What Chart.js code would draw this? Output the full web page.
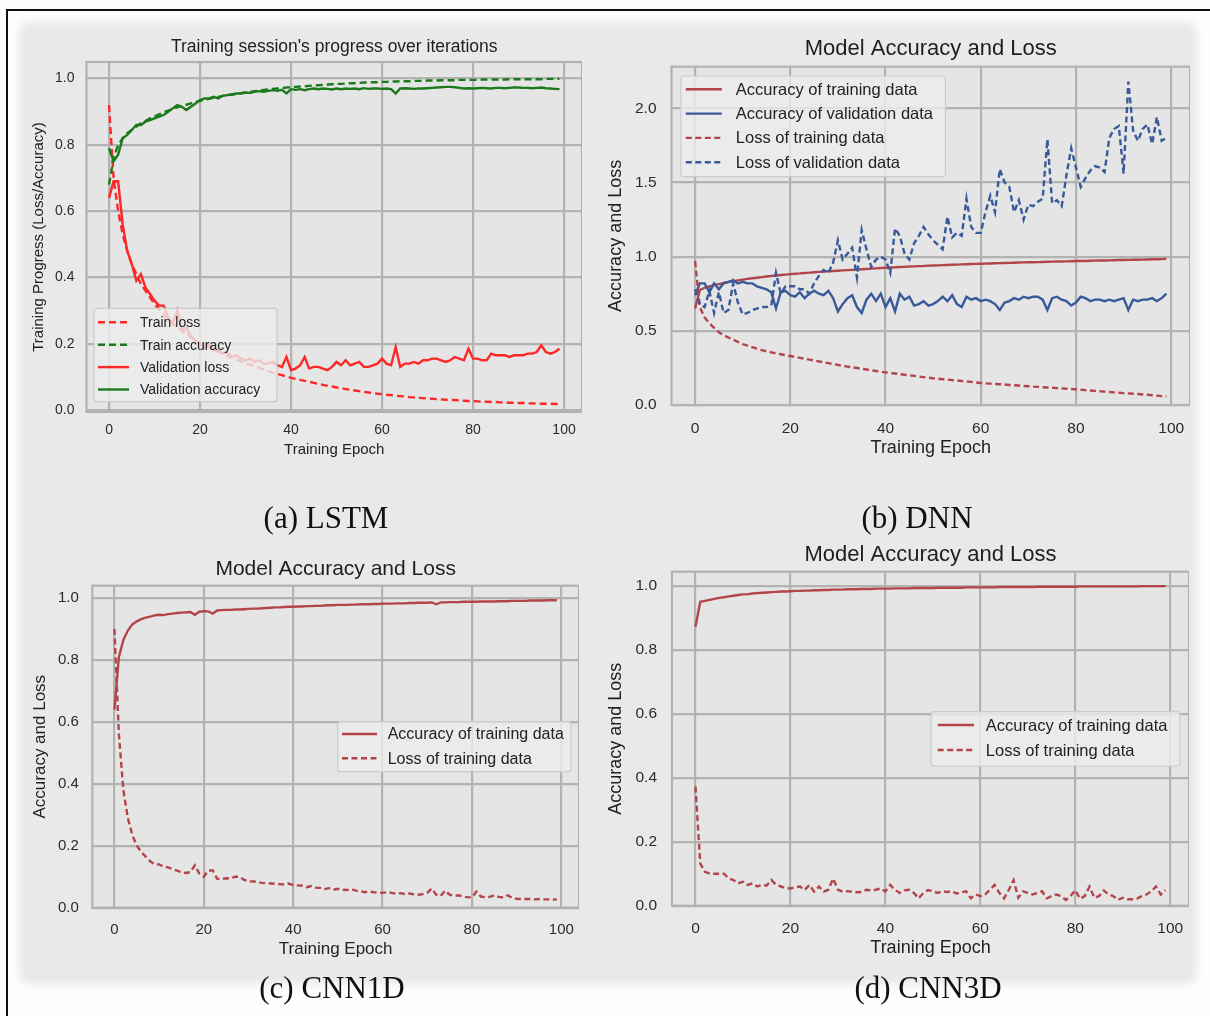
<!DOCTYPE html>
<html><head><meta charset="utf-8">
<script src="https://cdn.jsdelivr.net/npm/chart.js@4.4.0/dist/chart.umd.min.js"></script>
<style>
html,body{margin:0;padding:0;background:#fdfdfd;width:1210px;height:1016px;overflow:hidden;position:relative;font-family:"Liberation Sans",Arial,sans-serif;}
#frame{position:absolute;left:6px;top:9px;width:1300px;height:1100px;border:2px solid #111;}
#panel{position:absolute;left:24px;top:27px;width:1168px;height:952px;background:#e9e9e9;box-shadow:0 0 8px 5px #e9e9e9;border-radius:6px}
canvas{position:absolute}
.cap{position:absolute;font-family:"Liberation Serif","Times New Roman",serif;font-size:31px;color:#111;transform:translate(-50%,-50%);white-space:nowrap}
</style></head>
<body>
<div id="frame"></div><div id="panel"></div>
<canvas id="cA" width="562" height="443" style="left:20px;top:20px"></canvas>
<canvas id="cB" width="590" height="450" style="left:600px;top:20px"></canvas>
<canvas id="cC" width="559" height="440" style="left:20px;top:535px"></canvas>
<canvas id="cD" width="589" height="445" style="left:600px;top:530px"></canvas>
<div class="cap" style="left:326px;top:518px">(a) LSTM</div>
<div class="cap" style="left:917px;top:518px">(b) DNN</div>
<div class="cap" style="left:332px;top:988px">(c) CNN1D</div>
<div class="cap" style="left:928px;top:988px">(d) CNN3D</div>
<script>
// ---------- shared categories / ticks ----------
const epochs = Array.from({length: 100}, (_, i) => i);
const xTickValues = [0, 20, 40, 60, 80, 100];
const yTicksUnit = [0, 0.2, 0.4, 0.6, 0.8, 1.0];
const yTicksDNN = [0, 0.5, 1.0, 1.5, 2.0];

// ---------- (a) LSTM ----------
const lstmTrainLoss = [
 0.92,0.70,0.60,0.53,0.48,0.44,0.41,0.38,0.36,0.34,
 0.32,0.305,0.29,0.275,0.26,0.25,0.24,0.23,0.22,0.21,
 0.20,0.195,0.19,0.183,0.176,0.17,0.164,0.158,0.152,0.147,
 0.142,0.137,0.132,0.127,0.122,0.117,0.113,0.109,0.105,0.101,
 0.097,0.094,0.091,0.088,0.085,0.082,0.079,0.076,0.073,0.071,
 0.068,0.066,0.063,0.061,0.059,0.057,0.055,0.053,0.051,0.049,
 0.048,0.046,0.045,0.043,0.042,0.041,0.039,0.038,0.037,0.036,
 0.035,0.034,0.033,0.032,0.031,0.030,0.030,0.029,0.028,0.027,
 0.027,0.026,0.025,0.025,0.024,0.024,0.023,0.023,0.022,0.022,
 0.021,0.021,0.020,0.020,0.020,0.019,0.019,0.019,0.018,0.018];
const lstmTrainAcc = [
 0.68,0.76,0.80,0.82,0.835,0.845,0.855,0.865,0.872,0.88,
 0.886,0.892,0.898,0.903,0.908,0.913,0.917,0.921,0.925,0.929,
 0.933,0.936,0.939,0.942,0.945,0.948,0.950,0.952,0.954,0.956,
 0.958,0.960,0.962,0.964,0.966,0.967,0.969,0.970,0.971,0.973,
 0.974,0.975,0.976,0.977,0.978,0.979,0.980,0.981,0.982,0.983,
 0.984,0.984,0.985,0.986,0.986,0.987,0.988,0.988,0.989,0.989,
 0.990,0.990,0.991,0.991,0.992,0.992,0.992,0.993,0.993,0.993,
 0.994,0.994,0.994,0.995,0.995,0.995,0.995,0.996,0.996,0.996,
 0.996,0.996,0.997,0.997,0.997,0.997,0.997,0.997,0.998,0.998,
 0.998,0.998,0.998,0.998,0.998,0.998,0.999,0.999,0.999,0.999];
const lstmValLoss = [
 0.64,0.69,0.69,0.56,0.48,0.44,0.39,0.41,0.37,0.35,
 0.33,0.315,0.315,0.28,0.26,0.30,0.24,0.25,0.22,0.21,
 0.20,0.19,0.20,0.18,0.18,0.17,0.175,0.16,0.165,0.155,
 0.15,0.155,0.145,0.15,0.14,0.14,0.145,0.135,0.13,0.16,
 0.12,0.125,0.135,0.16,0.125,0.13,0.13,0.125,0.12,0.13,
 0.145,0.135,0.15,0.135,0.14,0.145,0.13,0.13,0.135,0.14,
 0.155,0.14,0.135,0.19,0.13,0.14,0.14,0.145,0.14,0.15,
 0.15,0.155,0.155,0.15,0.145,0.15,0.16,0.155,0.15,0.185,
 0.155,0.155,0.15,0.15,0.17,0.165,0.165,0.165,0.16,0.165,
 0.165,0.165,0.17,0.17,0.175,0.195,0.175,0.17,0.175,0.185];
const lstmValAcc = [
 0.79,0.75,0.77,0.82,0.83,0.845,0.86,0.86,0.87,0.875,
 0.88,0.885,0.89,0.90,0.91,0.92,0.915,0.905,0.915,0.925,
 0.935,0.94,0.94,0.945,0.94,0.948,0.95,0.952,0.955,0.955,
 0.958,0.957,0.96,0.962,0.96,0.963,0.965,0.963,0.966,0.955,
 0.968,0.966,0.968,0.965,0.968,0.97,0.968,0.97,0.969,0.967,
 0.97,0.968,0.97,0.969,0.97,0.968,0.971,0.969,0.97,0.97,
 0.969,0.97,0.968,0.955,0.97,0.971,0.97,0.969,0.97,0.97,
 0.971,0.972,0.973,0.974,0.975,0.975,0.974,0.972,0.97,0.971,
 0.97,0.971,0.972,0.971,0.97,0.972,0.972,0.971,0.972,0.973,
 0.973,0.972,0.972,0.971,0.972,0.973,0.971,0.97,0.969,0.968];

// ---------- (b) DNN ----------
const dnnTrainAcc = [
 0.65,0.775,0.79,0.80,0.808,0.815,0.822,0.828,0.834,0.84,
 0.845,0.85,0.854,0.858,0.862,0.866,0.869,0.873,0.876,0.879,
 0.882,0.885,0.887,0.89,0.892,0.895,0.897,0.899,0.901,0.903,
 0.905,0.907,0.909,0.911,0.913,0.915,0.917,0.919,0.921,0.923,
 0.925,0.927,0.928,0.93,0.931,0.933,0.934,0.936,0.937,0.939,
 0.94,0.941,0.943,0.944,0.945,0.946,0.948,0.949,0.95,0.951,
 0.952,0.953,0.954,0.955,0.956,0.957,0.958,0.959,0.96,0.961,
 0.962,0.962,0.963,0.964,0.965,0.966,0.967,0.967,0.968,0.969,
 0.97,0.971,0.971,0.972,0.973,0.974,0.974,0.975,0.976,0.977,
 0.977,0.978,0.979,0.979,0.98,0.981,0.982,0.982,0.983,0.985];
const dnnValAcc = [
 0.74,0.82,0.82,0.76,0.82,0.78,0.82,0.83,0.84,0.82,
 0.83,0.82,0.82,0.80,0.79,0.78,0.76,0.65,0.76,0.77,
 0.74,0.73,0.76,0.72,0.75,0.77,0.75,0.74,0.77,0.72,
 0.63,0.68,0.72,0.74,0.66,0.62,0.71,0.75,0.70,0.75,
 0.66,0.72,0.63,0.75,0.71,0.73,0.67,0.68,0.70,0.67,
 0.68,0.70,0.73,0.70,0.74,0.68,0.66,0.73,0.71,0.72,
 0.70,0.71,0.70,0.68,0.64,0.69,0.70,0.72,0.71,0.73,
 0.72,0.73,0.73,0.71,0.64,0.72,0.73,0.71,0.70,0.67,
 0.69,0.73,0.72,0.70,0.71,0.71,0.70,0.71,0.70,0.71,
 0.72,0.64,0.71,0.70,0.71,0.71,0.72,0.70,0.72,0.75];
const dnnTrainLoss = [
 0.97,0.66,0.59,0.55,0.52,0.49,0.47,0.455,0.44,0.425,
 0.41,0.40,0.39,0.38,0.37,0.362,0.355,0.348,0.342,0.336,
 0.33,0.324,0.318,0.312,0.306,0.30,0.294,0.288,0.282,0.276,
 0.27,0.264,0.259,0.254,0.249,0.244,0.239,0.234,0.229,0.224,
 0.22,0.216,0.212,0.208,0.204,0.2,0.196,0.192,0.188,0.184,
 0.18,0.177,0.174,0.171,0.168,0.165,0.162,0.159,0.156,0.152,
 0.148,0.146,0.144,0.142,0.14,0.138,0.135,0.133,0.131,0.128,
 0.126,0.124,0.122,0.12,0.118,0.116,0.114,0.112,0.11,0.108,
 0.105,0.103,0.1,0.098,0.095,0.093,0.09,0.088,0.085,0.083,
 0.08,0.078,0.076,0.074,0.071,0.069,0.066,0.063,0.06,0.057];
const dnnValLoss = [
 0.78,0.68,0.66,0.77,0.62,0.76,0.62,0.64,0.82,0.69,
 0.61,0.62,0.64,0.65,0.66,0.66,0.67,0.89,0.75,0.80,
 0.80,0.80,0.78,0.78,0.75,0.82,0.87,0.91,0.89,0.96,
 1.11,0.98,1.02,1.06,0.86,1.18,1.05,0.93,0.98,1.00,
 0.98,0.89,1.19,1.14,1.02,0.98,1.09,1.14,1.2,1.15,
 1.11,1.08,1.05,1.27,1.13,1.16,1.14,1.39,1.2,1.16,
 1.16,1.30,1.41,1.3,1.59,1.5,1.47,1.3,1.38,1.25,
 1.35,1.34,1.37,1.39,1.79,1.36,1.38,1.34,1.55,1.73,
 1.6,1.47,1.53,1.58,1.61,1.6,1.57,1.8,1.86,1.88,
 1.56,2.18,1.85,1.78,1.86,1.89,1.76,1.94,1.78,1.80];

// ---------- (c) CNN1D ----------
const cnn1dAcc = [
 0.64,0.81,0.865,0.895,0.915,0.925,0.932,0.937,0.94,0.944,
 0.946,0.945,0.948,0.95,0.952,0.953,0.954,0.955,0.946,0.956,
 0.958,0.957,0.95,0.96,0.961,0.962,0.962,0.963,0.963,0.964,
 0.965,0.966,0.966,0.967,0.968,0.969,0.97,0.97,0.971,0.972,
 0.972,0.973,0.973,0.974,0.974,0.975,0.975,0.976,0.977,0.977,
 0.978,0.978,0.978,0.979,0.979,0.98,0.98,0.98,0.981,0.981,
 0.982,0.982,0.982,0.983,0.983,0.983,0.984,0.984,0.985,0.985,
 0.985,0.986,0.98,0.986,0.986,0.987,0.987,0.987,0.988,0.988,
 0.988,0.988,0.989,0.989,0.989,0.989,0.99,0.99,0.99,0.991,
 0.991,0.991,0.991,0.992,0.992,0.992,0.992,0.993,0.993,0.993];
const cnn1dLoss = [
 0.90,0.56,0.38,0.29,0.235,0.20,0.18,0.165,0.15,0.14,
 0.14,0.133,0.13,0.125,0.12,0.115,0.112,0.115,0.137,0.11,
 0.10,0.12,0.12,0.093,0.093,0.095,0.094,0.10,0.10,0.09,
 0.085,0.085,0.083,0.08,0.079,0.078,0.077,0.076,0.075,0.078,
 0.073,0.072,0.071,0.066,0.07,0.065,0.064,0.06,0.063,0.058,
 0.061,0.058,0.057,0.06,0.055,0.054,0.05,0.053,0.05,0.049,
 0.048,0.05,0.048,0.045,0.047,0.044,0.046,0.043,0.042,0.044,
 0.048,0.062,0.042,0.038,0.055,0.042,0.038,0.04,0.036,0.034,
 0.033,0.052,0.036,0.034,0.035,0.04,0.035,0.033,0.04,0.032,
 0.029,0.028,0.028,0.028,0.027,0.028,0.027,0.027,0.026,0.027];

// ---------- (d) CNN3D ----------
const cnn3dAcc = [
 0.872,0.95,0.953,0.956,0.959,0.962,0.964,0.967,0.969,0.971,
 0.973,0.974,0.976,0.977,0.978,0.979,0.98,0.981,0.982,0.982,
 0.983,0.984,0.984,0.985,0.985,0.986,0.986,0.987,0.987,0.988,
 0.988,0.988,0.989,0.989,0.989,0.99,0.99,0.99,0.991,0.991,
 0.991,0.991,0.992,0.992,0.992,0.992,0.993,0.993,0.993,0.993,
 0.993,0.994,0.994,0.994,0.994,0.994,0.994,0.995,0.995,0.995,
 0.995,0.995,0.995,0.995,0.996,0.996,0.996,0.996,0.996,0.996,
 0.996,0.996,0.997,0.997,0.997,0.997,0.997,0.997,0.997,0.997,
 0.997,0.998,0.998,0.998,0.998,0.998,0.998,0.998,0.998,0.998,
 0.998,0.998,0.998,0.998,0.999,0.999,0.999,0.999,0.999,0.999];
const cnn3dLoss = [
 0.372,0.132,0.106,0.10,0.10,0.10,0.10,0.085,0.08,0.07,
 0.075,0.065,0.07,0.06,0.065,0.063,0.08,0.065,0.06,0.055,
 0.054,0.058,0.06,0.049,0.065,0.044,0.06,0.044,0.05,0.085,
 0.05,0.044,0.045,0.044,0.042,0.043,0.05,0.048,0.05,0.054,
 0.045,0.065,0.05,0.04,0.048,0.05,0.04,0.023,0.04,0.049,
 0.045,0.04,0.045,0.043,0.045,0.038,0.042,0.045,0.023,0.035,
 0.03,0.035,0.05,0.065,0.04,0.023,0.05,0.08,0.025,0.045,
 0.04,0.035,0.04,0.045,0.023,0.03,0.035,0.03,0.018,0.03,
 0.049,0.022,0.03,0.06,0.025,0.03,0.048,0.035,0.03,0.018,
 0.025,0.02,0.02,0.022,0.03,0.035,0.045,0.06,0.035,0.049];

// ---------- styling ----------
const FONT = '"Liberation Sans", Arial, Helvetica, sans-serif';
Chart.defaults.font.family = FONT;
const RED_A = '#ff2626', GREEN_A = '#1c7a1c';
const RED = '#b3454a', BLUE = '#38599a';
const GRID = '#b2b2b2', PLOT_BG = '#e5e5e5', TXT = '#2b2b2b';
const LW = 2.4;

const decoPlugin = {
  id: 'deco',
  beforeDraw(chart) {
    const {ctx, chartArea: a} = chart;
    ctx.save();
    ctx.fillStyle = PLOT_BG;
    ctx.fillRect(a.left, a.top, a.right - a.left, a.bottom - a.top);
    ctx.restore();
  },
  beforeDatasetsDraw(chart) {
    const {ctx, chartArea: a} = chart;
    ctx.save();
    ctx.strokeStyle = GRID; ctx.lineWidth = 2.2;
    ctx.strokeRect(a.left, a.top, a.right - a.left, a.bottom - a.top);
    ctx.restore();
  },
  afterDatasetsDraw(chart, args, L) {
    if (!L || !L.order) return;
    const {ctx, chartArea: a} = chart;
    const x0 = a.left + L.dx, y0 = a.top + L.dy;
    ctx.save();
    ctx.beginPath();
    ctx.roundRect(x0, y0, L.w, L.h, 3);
    ctx.fillStyle = 'rgba(236,236,236,0.8)';
    ctx.fill();
    ctx.strokeStyle = '#cccccc'; ctx.lineWidth = 1.2;
    ctx.stroke();
    L.order.forEach((di, i) => {
      const ds = chart.data.datasets[di];
      const y = y0 + L.row0 + i * L.gap;
      ctx.beginPath();
      ctx.setLineDash(ds.borderDash || []);
      ctx.strokeStyle = ds.borderColor; ctx.lineWidth = ds.borderWidth;
      ctx.moveTo(x0 + L.sw0, y); ctx.lineTo(x0 + L.sw1, y); ctx.stroke();
      ctx.setLineDash([]);
      ctx.fillStyle = '#222222';
      ctx.font = L.fontSize + 'px ' + FONT;
      ctx.textBaseline = 'middle'; ctx.textAlign = 'left';
      ctx.fillText(ds.label, x0 + L.tx, y + 1);
    });
    ctx.restore();
  }
};

function series(label, vals, color, dashed, dash) {
  return {
    label, data: epochs.map((e, i) => ({x: e, y: vals[i]})),
    borderColor: color, backgroundColor: color, borderWidth: LW,
    borderDash: dashed ? dash : [], pointRadius: 0, tension: 0, fill: false
  };
}

function build(id, p) {
  const n = p.datasets.length;
  p.datasets.forEach((d, k) => d.order = n - k);
  new Chart(document.getElementById(id), {
    type: 'line',
    data: {datasets: p.datasets},
    plugins: [decoPlugin],
    options: {
      responsive: false, animation: false, events: [],
      layout: {padding: 0},
      plugins: {
        legend: {display: false}, tooltip: {enabled: false},
        title: {display: true, text: p.title, fullSize: false, color: '#1e1e1e',
          font: {size: p.titleSize, weight: 'normal'}, padding: {top: p.titlePt, bottom: p.titlePb}},
        deco: p.legend
      },
      scales: {
        x: {
          type: 'linear', min: -4.95, max: 103.95,
          afterBuildTicks: s => { s.ticks = xTickValues.map(v => ({value: v})); },
          afterFit: s => { s.height = p.xH; s.paddingLeft = 0; s.paddingRight = 0; },
          ticks: {autoSkip: false, maxRotation: 0, padding: p.xPad, color: TXT,
            font: {size: p.tickSize}, callback: v => String(v)},
          grid: {color: GRID, lineWidth: 2.2, drawTicks: false},
          border: {display: false},
          title: {display: true, text: 'Training Epoch', color: '#222222',
            font: {size: p.axSize}, padding: {top: 0, bottom: p.xTitlePb}}
        },
        y: {
          min: p.yMin, max: p.yMax,
          afterBuildTicks: s => { s.ticks = p.yTicks.map(v => ({value: v})); },
          afterFit: s => { s.width = p.yW; s.paddingTop = 0; s.paddingBottom = 0; },
          ticks: {padding: p.yPad, color: TXT, font: {size: p.tickSize},
            callback: v => Number(v).toFixed(1)},
          grid: {color: GRID, lineWidth: 2.2, drawTicks: false},
          border: {display: false},
          title: {display: true, text: p.yTitle, color: '#222222',
            font: {size: p.axSize}, padding: {top: p.yTitlePt, bottom: 0}}
        }
      }
    }
  });
}

// (a) LSTM
build('cA', {
  title: "Training session's progress over iterations", titleSize: 17.5, titlePt: 16.5, titlePb: 4.5,
  yTitle: 'Training Progress (Loss/Accuracy)', yTitlePt: 9.5, axSize: 15, tickSize: 14,
  xH: 51, xPad: 10, xTitlePb: 4, yW: 66.5, yPad: 12,
  yMin: -0.006, yMax: 1.05, yTicks: yTicksUnit,
  datasets: [
    series('Train loss', lstmTrainLoss, RED_A, true, [7, 4]),
    series('Train accuracy', lstmTrainAcc, GREEN_A, true, [7, 4]),
    series('Validation loss', lstmValLoss, RED_A, false),
    series('Validation accuracy', lstmValAcc, GREEN_A, false)
  ],
  legend: {order: [0, 1, 2, 3], dx: 7.5, dy: 246.3, w: 183, h: 93.4, row0: 14, gap: 22.4,
    sw0: 4, sw1: 35, tx: 46, fontSize: 14}
});

// (b) DNN
build('cB', {
  title: 'Model Accuracy and Loss', titleSize: 22, titlePt: 15.8, titlePb: 4.5,
  yTitle: 'Accuracy and Loss', yTitlePt: 5.7, axSize: 18, tickSize: 15.5,
  xH: 65, xPad: 14, xTitlePb: 10.9, yW: 71.5, yPad: 15,
  yMin: 0, yMax: 2.28, yTicks: yTicksDNN,
  datasets: [
    series('Accuracy of training data', dnnTrainAcc, RED, false),
    series('Accuracy of validation data', dnnValAcc, BLUE, false),
    series('Loss of training data', dnnTrainLoss, RED, true, [6, 3.5]),
    series('Loss of validation data', dnnValLoss, BLUE, true, [6, 3.5])
  ],
  legend: {order: [0, 1, 2, 3], dx: 9.3, dy: 9.3, w: 264.6, h: 100.7, row0: 13.3, gap: 24.3,
    sw0: 5, sw1: 41, tx: 55, fontSize: 16.5}
});

// (c) CNN1D
build('cC', {
  title: 'Model Accuracy and Loss', titleSize: 21, titlePt: 21.7, titlePb: 3.8,
  yTitle: 'Accuracy and Loss', yTitlePt: 10.2, axSize: 17, tickSize: 15,
  xH: 67.3, xPad: 13, xTitlePb: 15.5, yW: 72.3, yPad: 13.5,
  yMin: 0, yMax: 1.04, yTicks: yTicksUnit,
  datasets: [
    series('Accuracy of training data', cnn1dAcc, RED, false),
    series('Loss of training data', cnn1dLoss, RED, true, [6, 3.5])
  ],
  legend: {order: [0, 1], dx: 245.4, dy: 136, w: 233.3, h: 50, row0: 12.3, gap: 24.3,
    sw0: 4.3, sw1: 39.3, tx: 50, fontSize: 16}
});

// (d) CNN3D
build('cD', {
  title: 'Model Accuracy and Loss', titleSize: 22, titlePt: 11.8, titlePb: 3.5,
  yTitle: 'Accuracy and Loss', yTitlePt: 5.7, axSize: 18, tickSize: 15.5,
  xH: 69.3, xPad: 14, xTitlePb: 15.9, yW: 72, yPad: 15,
  yMin: 0, yMax: 1.044, yTicks: yTicksUnit,
  datasets: [
    series('Accuracy of training data', cnn3dAcc, RED, false),
    series('Loss of training data', cnn3dLoss, RED, true, [6, 3.5])
  ],
  legend: {order: [0, 1], dx: 259, dy: 140, w: 249, h: 54.3, row0: 13.3, gap: 25,
    sw0: 6.7, sw1: 43, tx: 54.8, fontSize: 16.5}
});
</script>
</body></html>
